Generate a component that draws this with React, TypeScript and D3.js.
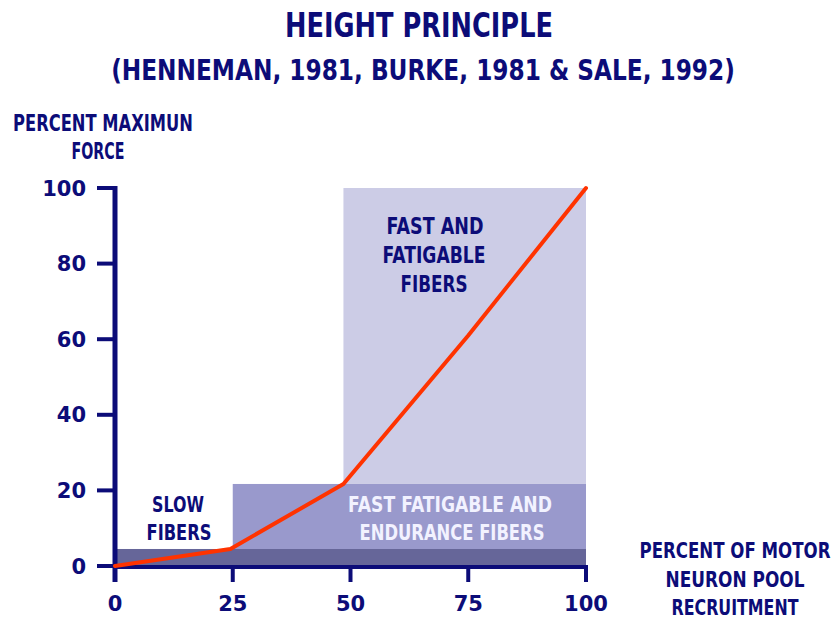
import React, { useLayoutEffect, useRef, useState } from "react";
import * as d3 from "d3";

const W = 836;
const H = 621;

const xTicks = [0, 25, 50, 75, 100];
const yTicks = [0, 20, 40, 60, 80, 100];

// red recruitment curve
const recruitment = [0, 24.5, 48.5, 75, 100];
const force = [0, 4.5, 21.7, 61, 100];

// fibre zones
const zoneStart = [0, 25, 48.5];
const zoneEnd = [100, 100, 100];
const zoneLow = [0, 4.5, 21.7];
const zoneHigh = [4.5, 21.7, 100];
const zoneFill = ["#666699", "#9999cc", "#ccccE6"];

const titleText = "HEIGHT PRINCIPLE";
const subtitleText = "(HENNEMAN, 1981, BURKE, 1981 & SALE, 1992)";
const yLabelLines = ["PERCENT MAXIMUN", "FORCE"];
const xLabelLines = ["PERCENT OF MOTOR", "NEURON POOL", "RECRUITMENT"];
const slowLines = ["SLOW", "FIBERS"];
const fastLines = ["FAST AND", "FATIGABLE", "FIBERS"];
const midLines = ["FAST FATIGABLE AND", "ENDURANCE FIBERS"];

const NAVY = "#0c0c78";
const FONT = "'DejaVu Sans', 'Liberation Sans', sans-serif";

function FitText(props: {
  txt: string;
  cx: number;
  by: number;
  size: number;
  len: number;
  fill?: string;
}) {
  const ref = useRef<SVGTextElement>(null);
  const [sx, setSx] = useState(1);
  useLayoutEffect(() => {
    if (ref.current) {
      const natural = ref.current.getComputedTextLength();
      if (natural > 0) setSx(props.len / natural);
    }
  }, [props.txt, props.len, props.size]);
  return (
    <g transform={`translate(${props.cx},${props.by}) scale(${sx},1)`}>
      <text
        ref={ref}
        x={0}
        y={0}
        fontSize={props.size}
        fontWeight="bold"
        fontFamily={FONT}
        fill={props.fill || NAVY}
        textAnchor="middle"
      >
        {props.txt}
      </text>
    </g>
  );
}

export default function App() {
  const x = d3.scaleLinear().domain([0, 100]).range([115, 586]);
  const y = d3.scaleLinear().domain([0, 100]).range([566, 188]);

  const pts = recruitment.map((r, i) => [r, force[i]] as [number, number]);
  const line = d3
    .line<[number, number]>()
    .x((d) => x(d[0]))
    .y((d) => y(d[1]));

  return (
    <svg
      width={W}
      height={H}
      style={{ position: "absolute", left: 0, top: 0, background: "#fff" }}
    >
      {/* zones */}
      {zoneStart.map((s, i) => (
        <rect
          key={"z" + i}
          x={x(s)}
          y={y(zoneHigh[i])}
          width={x(zoneEnd[i]) - x(s)}
          height={y(zoneLow[i]) - y(zoneHigh[i])}
          fill={zoneFill[i]}
        />
      ))}

      {/* titles */}
      <FitText txt={titleText} cx={419} by={37} size={34} len={268} />
      <FitText txt={subtitleText} cx={423} by={80} size={29} len={624} />

      {/* y label */}
      <FitText txt={yLabelLines[0]} cx={103} by={131} size={23} len={180} />
      <FitText txt={yLabelLines[1]} cx={98} by={159} size={23} len={53} />

      {/* x label */}
      <FitText txt={xLabelLines[0]} cx={735} by={558} size={22} len={191} />
      <FitText txt={xLabelLines[1]} cx={735} by={587} size={22} len={139} />
      <FitText txt={xLabelLines[2]} cx={735} by={615} size={21} len={127} />

      {/* zone labels */}
      <FitText txt={slowLines[0]} cx={178} by={512} size={22} len={52} />
      <FitText txt={slowLines[1]} cx={179} by={540} size={22} len={65} />
      <FitText txt={fastLines[0]} cx={435} by={234} size={23} len={97} />
      <FitText txt={fastLines[1]} cx={434} by={263} size={23} len={103} />
      <FitText txt={fastLines[2]} cx={434} by={292} size={23} len={67} />
      <FitText txt={midLines[0]} cx={450} by={512} size={22} len={204} fill="#f2f2ff" />
      <FitText txt={midLines[1]} cx={452} by={540} size={22} len={185} fill="#f2f2ff" />

      {/* axes */}
      <line x1={115} x2={115} y1={y(100) - 2} y2={582} stroke={NAVY} strokeWidth={5} />
      <line x1={113} x2={588} y1={567} y2={567} stroke={NAVY} strokeWidth={4} />
      {yTicks.map((t) => (
        <g key={"yt" + t}>
          <line x1={97} x2={115} y1={y(t)} y2={y(t)} stroke={NAVY} strokeWidth={4} />
          <text
            x={86}
            y={y(t) + 7.5}
            fontSize={21}
            fontWeight="bold"
            fontFamily={FONT}
            fill={NAVY}
            textAnchor="end"
          >
            {t}
          </text>
        </g>
      ))}
      {xTicks.map((t) => (
        <g key={"xt" + t}>
          <line x1={x(t)} x2={x(t)} y1={566} y2={582} stroke={NAVY} strokeWidth={4} />
          <text
            x={x(t)}
            y={611}
            fontSize={21}
            fontWeight="bold"
            fontFamily={FONT}
            fill={NAVY}
            textAnchor="middle"
          >
            {t}
          </text>
        </g>
      ))}

      {/* red line */}
      <path
        d={line(pts) || ""}
        fill="none"
        stroke="#ff3300"
        strokeWidth={4}
        strokeLinejoin="round"
        strokeLinecap="round"
      />
    </svg>
  );
}
